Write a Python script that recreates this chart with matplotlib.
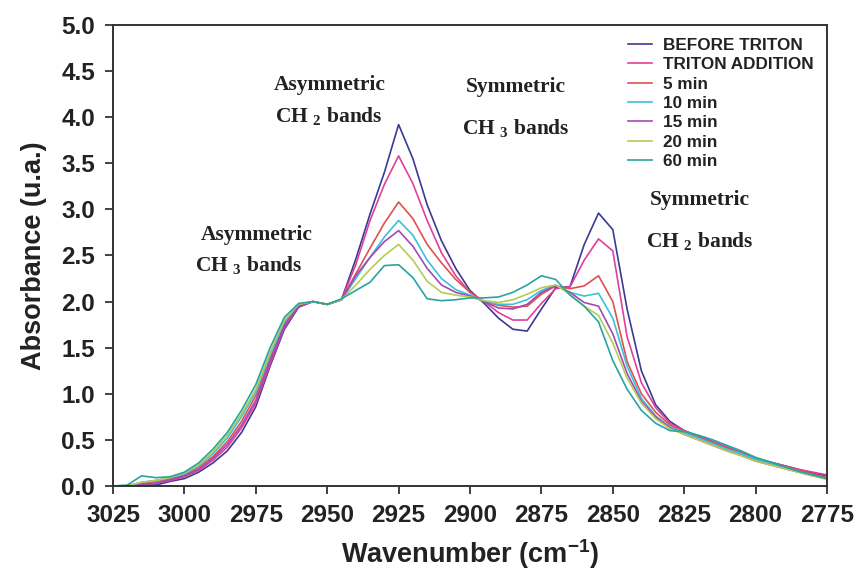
import matplotlib
matplotlib.use("Agg")
import matplotlib.pyplot as plt

plt.rcParams["font.family"] = ["Liberation Sans", "DejaVu Sans"]
plt.rcParams["mathtext.fontset"] = "custom"
plt.rcParams["mathtext.bf"] = "Liberation Sans:bold"
plt.rcParams["mathtext.sf"] = "Liberation Serif:bold"

# wavenumber grid (cm-1) and absorbance
wavenumber = [3025, 3020, 3015, 3010, 3005, 3000, 2995, 2990, 2985, 2980,
              2975, 2970, 2965, 2960, 2955, 2950, 2945, 2940, 2935, 2930,
              2925, 2920, 2915, 2910, 2905, 2900, 2895, 2890, 2885, 2880,
              2875, 2870, 2865, 2860, 2855, 2850, 2845, 2840, 2835, 2830,
              2825, 2820, 2815, 2810, 2805, 2800, 2795, 2790, 2785, 2780, 2775]

before_triton = [0.00, 0.00, 0.01, 0.01, 0.05, 0.08, 0.15, 0.25, 0.38, 0.58,
                 0.86, 1.30, 1.70, 1.94, 2.00, 1.97, 2.02, 2.46, 2.95, 3.40,
                 3.92, 3.55, 3.05, 2.66, 2.36, 2.12, 1.98, 1.82, 1.70, 1.68,
                 1.92, 2.15, 2.16, 2.62, 2.96, 2.78, 1.92, 1.25, 0.88, 0.70,
                 0.60, 0.54, 0.48, 0.42, 0.36, 0.30, 0.26, 0.22, 0.18, 0.14, 0.11]
triton_addition = [0.00, 0.00, 0.02, 0.03, 0.06, 0.10, 0.17, 0.28, 0.42, 0.63,
                   0.90, 1.32, 1.72, 1.95, 2.00, 1.97, 2.02, 2.40, 2.88, 3.27,
                   3.58, 3.28, 2.88, 2.53, 2.28, 2.10, 2.00, 1.88, 1.80, 1.80,
                   1.98, 2.14, 2.16, 2.45, 2.68, 2.55, 1.62, 1.12, 0.85, 0.68,
                   0.60, 0.54, 0.48, 0.42, 0.36, 0.30, 0.26, 0.22, 0.18, 0.15, 0.12]
min_5 = [0.00, 0.00, 0.03, 0.05, 0.08, 0.12, 0.20, 0.32, 0.48, 0.70,
         0.98, 1.38, 1.76, 1.96, 2.00, 1.97, 2.02, 2.30, 2.58, 2.85,
         3.08, 2.90, 2.62, 2.42, 2.24, 2.10, 2.00, 1.96, 1.94, 1.95,
         2.08, 2.17, 2.14, 2.17, 2.28, 2.00, 1.35, 1.00, 0.80, 0.66,
         0.59, 0.53, 0.47, 0.41, 0.35, 0.29, 0.25, 0.21, 0.17, 0.13, 0.09]
min_10 = [0.00, 0.00, 0.04, 0.06, 0.09, 0.13, 0.22, 0.35, 0.52, 0.75,
          1.02, 1.42, 1.78, 1.97, 2.00, 1.97, 2.02, 2.25, 2.48, 2.70,
          2.88, 2.72, 2.45, 2.25, 2.13, 2.07, 2.00, 1.97, 1.97, 2.02,
          2.12, 2.18, 2.10, 2.06, 2.09, 1.82, 1.30, 0.95, 0.76, 0.64,
          0.58, 0.52, 0.46, 0.40, 0.35, 0.29, 0.25, 0.20, 0.16, 0.12, 0.08]
min_15 = [0.00, 0.00, 0.02, 0.03, 0.07, 0.11, 0.18, 0.30, 0.45, 0.66,
          0.93, 1.35, 1.74, 1.95, 2.00, 1.97, 2.02, 2.28, 2.48, 2.65,
          2.77, 2.60, 2.36, 2.18, 2.10, 2.06, 2.00, 1.93, 1.92, 1.97,
          2.10, 2.17, 2.10, 1.99, 1.95, 1.65, 1.22, 0.92, 0.75, 0.63,
          0.56, 0.50, 0.44, 0.38, 0.33, 0.27, 0.23, 0.19, 0.15, 0.11, 0.08]
min_20 = [0.00, 0.00, 0.04, 0.06, 0.09, 0.14, 0.23, 0.37, 0.55, 0.78,
          1.05, 1.45, 1.80, 1.97, 2.00, 1.97, 2.02, 2.18, 2.35, 2.50,
          2.62, 2.45, 2.22, 2.10, 2.07, 2.05, 2.01, 1.99, 2.02, 2.08,
          2.15, 2.18, 2.08, 1.95, 1.85, 1.55, 1.17, 0.90, 0.73, 0.62,
          0.56, 0.50, 0.44, 0.38, 0.33, 0.27, 0.23, 0.19, 0.15, 0.11, 0.07]
min_60 = [0.00, 0.01, 0.11, 0.09, 0.10, 0.15, 0.25, 0.40, 0.58, 0.82,
          1.10, 1.50, 1.83, 1.98, 2.00, 1.97, 2.03, 2.12, 2.21, 2.39,
          2.40, 2.26, 2.03, 2.01, 2.02, 2.04, 2.04, 2.05, 2.10, 2.18,
          2.28, 2.24, 2.07, 1.95, 1.78, 1.36, 1.05, 0.82, 0.68, 0.60,
          0.59, 0.55, 0.50, 0.44, 0.38, 0.31, 0.26, 0.21, 0.16, 0.12, 0.08]

series = [
    ("BEFORE TRITON", before_triton, "#3a3a94"),
    ("TRITON ADDITION", triton_addition, "#e0409c"),
    ("5 min", min_5, "#e2504c"),
    ("10 min", min_10, "#38c2dc"),
    ("15 min", min_15, "#a548b4"),
    ("20 min", min_20, "#b4cc52"),
    ("60 min", min_60, "#2aa3a3"),
]

fig = plt.figure(figsize=(8.62, 5.76), dpi=100)
ax = fig.add_axes([0.1311, 0.1563, 0.8283, 0.8003])

for label, vals, col in series:
    ax.plot(wavenumber, vals, color=col, lw=1.2, label=label)

ax.set_xlim(3025, 2775)
ax.set_ylim(0, 5)
ax.set_xticks(range(3025, 2774, -25))
ax.set_yticks([i * 0.5 for i in range(11)])
ax.set_yticklabels([f"{i * 0.5:.1f}" for i in range(11)])
ax.tick_params(direction="out", length=6, width=1.3, labelsize=17.5, pad=7, color="#333333")
for lab in ax.get_xticklabels() + ax.get_yticklabels():
    lab.set_fontweight("bold")
    lab.set_color("#222222")
for sp in ax.spines.values():
    sp.set_linewidth(1.4)
    sp.set_color("#333333")

ax.set_xlabel(r"Wavenumber (cm$^{\mathbf{-1}}$)", fontsize=19.5, fontweight="bold", color="#222222", labelpad=7)
ax.set_ylabel("Absorbance (u.a.)", fontsize=19.5, fontweight="bold", color="#222222", labelpad=10)

# band annotations (Times-like bold)
ann = dict(family="Liberation Serif", fontweight="bold", fontsize=15.5, ha="center", va="center", color="#222222")
ax.text(2949, 4.35, "Asymmetric", **ann)
ax.text(2949.5, 4.0, r"CH $_{\mathsf{2}}$ bands", **ann)
ax.text(2884, 4.33, "Symmetric", **ann)
ax.text(2884, 3.88, r"CH $_{\mathsf{3}}$ bands", **ann)
ax.text(2974.5, 2.72, "Asymmetric", **ann)
ax.text(2977.5, 2.39, r"CH $_{\mathsf{3}}$ bands", **ann)
ax.text(2819.5, 3.10, "Symmetric", **ann)
ax.text(2819.5, 2.65, r"CH $_{\mathsf{2}}$ bands", **ann)

leg = ax.legend(loc="upper left", bbox_to_anchor=(0.71, 0.99), frameon=False,
                prop={"weight": "bold", "size": 12.3}, handlelength=1.35,
                handletextpad=0.65, labelspacing=0.25, borderpad=0)
for t in leg.get_texts():
    t.set_color("#222222")

fig.savefig("out.png", dpi=100)
